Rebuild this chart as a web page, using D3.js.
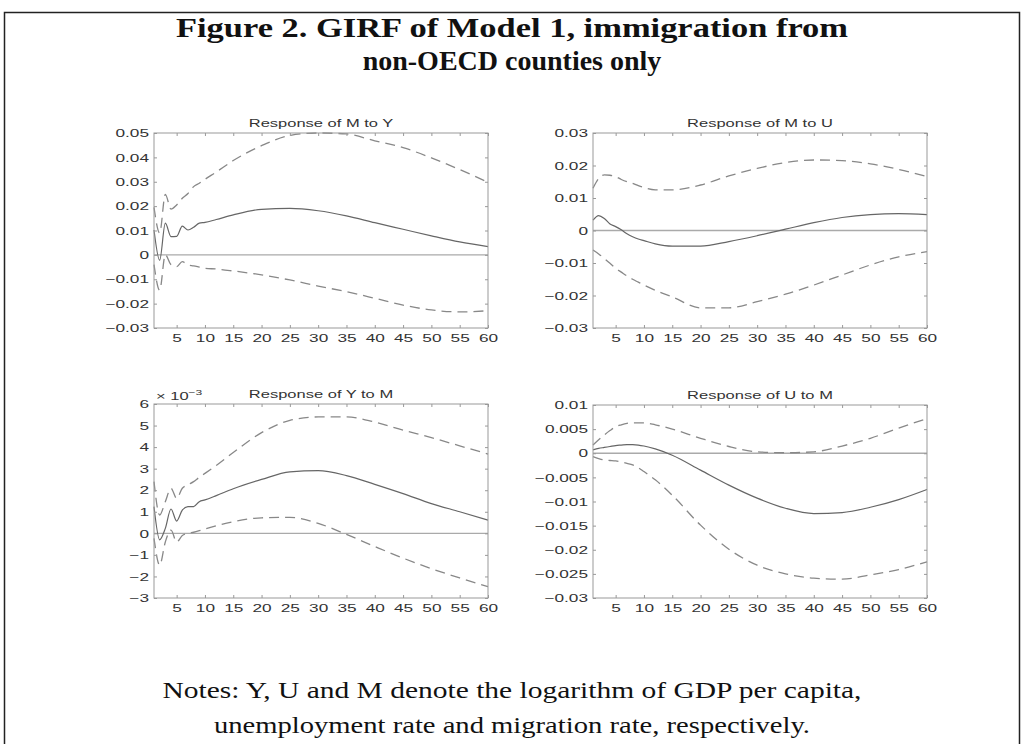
<!DOCTYPE html>
<html>
<head>
<meta charset="utf-8">
<script src="https://cdn.jsdelivr.net/npm/d3@7"></script>
<style>
  body { margin: 0; background: #fff; }
  svg { display: block; }
</style>
</head>
<body>
<svg id="fig" width="1024" height="744"></svg>
<script>
const periods = [1, 2, 3, 4, 5, 6, 7, 8, 9, 10, 12, 15, 20, 25, 30, 35, 40, 45, 50, 55, 60]
const xTicks = [5, 10, 15, 20, 25, 30, 35, 40, 45, 50, 55, 60]

// Response of M to Y
const myMedian = [0.0102, -0.0022, 0.013, 0.0075, 0.0076, 0.0118, 0.0102, 0.0113, 0.013, 0.0133, 0.0145, 0.0164, 0.0187, 0.0191, 0.0181, 0.016, 0.0132, 0.0105, 0.0078, 0.0053, 0.0034]
const myUpper = [0.0195, 0.009, 0.0248, 0.0188, 0.0205, 0.0232, 0.0252, 0.028, 0.0294, 0.031, 0.034, 0.0387, 0.0448, 0.049, 0.05, 0.0496, 0.0468, 0.044, 0.0398, 0.035, 0.0298]
const myLower = [-0.004, -0.0145, 0.0, -0.004, -0.0048, -0.0028, -0.0041, -0.0045, -0.005, -0.0055, -0.0058, -0.0066, -0.0082, -0.0103, -0.0128, -0.0151, -0.0178, -0.0206, -0.0226, -0.0234, -0.0229]
const myTicks = [-0.03, -0.02, -0.01, 0, 0.01, 0.02, 0.03, 0.04, 0.05]

// Response of M to U
const muMedian = [0.0032, 0.0046, 0.0037, 0.002, 0.0012, 0.0002, -0.001, -0.0019, -0.0026, -0.0031, -0.0041, -0.0048, -0.0048, -0.0034, -0.0016, 0.0004, 0.0024, 0.004, 0.0049, 0.0052, 0.0049]
const muUpper = [0.013, 0.016, 0.0171, 0.017, 0.0166, 0.0157, 0.015, 0.0145, 0.0138, 0.0132, 0.0125, 0.0125, 0.014, 0.0168, 0.0191, 0.0209, 0.0217, 0.0215, 0.0205, 0.0188, 0.0166]
const muLower = [-0.006, -0.0072, -0.0086, -0.0101, -0.0116, -0.0128, -0.014, -0.015, -0.0159, -0.0168, -0.0184, -0.0204, -0.0238, -0.0238, -0.0219, -0.0196, -0.0168, -0.0137, -0.0106, -0.0081, -0.0065]
const muTicks = [-0.03, -0.02, -0.01, 0, 0.01, 0.02, 0.03]

// Response of Y to M (in units of 10^-3)
const ymMedian = [1.24, -0.3, 0.23, 1.13, 0.57, 1.08, 1.24, 1.24, 1.47, 1.55, 1.75, 2.07, 2.5, 2.85, 2.91, 2.68, 2.27, 1.84, 1.38, 1.0, 0.61]
const ymUpper = [2.4, 0.85, 1.47, 2.09, 1.62, 2.09, 2.25, 2.4, 2.6, 2.78, 3.15, 3.75, 4.67, 5.24, 5.4, 5.4, 5.16, 4.79, 4.44, 4.06, 3.68]
const ymLower = [-0.23, -1.47, -0.4, 0.15, -0.4, -0.1, 0.0, 0.05, 0.12, 0.2, 0.35, 0.54, 0.72, 0.74, 0.46, -0.05, -0.61, -1.15, -1.64, -2.07, -2.47]
const ymTicks = [-3, -2, -1, 0, 1, 2, 3, 4, 5, 6]

// Response of U to M
const umMedian = [0.0007, 0.001, 0.0012, 0.0014, 0.0016, 0.0017, 0.0018, 0.0018, 0.0017, 0.0015, 0.0009, -0.0004, -0.0035, -0.0066, -0.0093, -0.0114, -0.0125, -0.0123, -0.0112, -0.0096, -0.0075]
const umUpper = [0.0017, 0.0028, 0.0038, 0.0047, 0.0055, 0.0059, 0.0062, 0.0063, 0.0063, 0.0063, 0.0059, 0.005, 0.0031, 0.0014, 0.0003, 0.0001, 0.0003, 0.0015, 0.0031, 0.0052, 0.0072]
const umLower = [-0.0007, -0.0011, -0.0014, -0.0015, -0.0016, -0.0018, -0.0021, -0.0024, -0.003, -0.0038, -0.0055, -0.0087, -0.0149, -0.0199, -0.0232, -0.025, -0.0259, -0.0261, -0.0252, -0.0241, -0.0225]
const umTicks = [-0.03, -0.025, -0.02, -0.015, -0.01, -0.005, 0, 0.005, 0.01]

const svg = d3.select("#fig")
const sans = "Liberation Sans, Arial, Helvetica, sans-serif"
const serif = "Liberation Serif, Times New Roman, serif"
const stretch = 1.5   // the original tick text is wide

// frame
svg.append("path")
    .attr("d", "M4.5,744 V12.5 H1019.5 V744")
    .attr("fill", "none")
    .attr("stroke", "#222")
    .attr("stroke-width", 1.5)

// title
const title = ["Figure 2.  GIRF of Model 1, immigration from", "non-OECD counties only"]
const titleW = [672, null]
title.forEach((t, i) => {
    const tt = svg.append("text")
        .attr("x", 512).attr("y", 37 + i * 33)
        .attr("text-anchor", "middle")
        .attr("font-family", serif).attr("font-weight", "bold")
        .attr("font-size", 28)
        .attr("fill", "#111")
        .text(t)
    if (titleW[i]) tt.attr("textLength", titleW[i]).attr("lengthAdjust", "spacingAndGlyphs")
})

// notes
const notes = ["Notes: Y, U and M denote the logarithm of GDP per capita,", "unemployment rate and migration rate, respectively."]
const notesW = [699, 596]
notes.forEach((t, i) => {
    svg.append("text")
        .attr("x", 512).attr("y", 698 + i * 35)
        .attr("text-anchor", "middle")
        .attr("font-family", serif)
        .attr("font-size", 23)
        .attr("textLength", notesW[i]).attr("lengthAdjust", "spacingAndGlyphs")
        .attr("fill", "#111")
        .text(t)
})

const panels = [
    { title: "Response of M to Y", left: 154, top: 133, w: 334, h: 195, dom: [-0.03, 0.05], ticks: myTicks, med: myMedian, up: myUpper, lo: myLower },
    { title: "Response of M to U", left: 593, top: 133, w: 334, h: 195, dom: [-0.03, 0.03], ticks: muTicks, med: muMedian, up: muUpper, lo: muLower },
    { title: "Response of Y to M", left: 154, top: 404, w: 334, h: 194, dom: [-3, 6], ticks: ymTicks, med: ymMedian, up: ymUpper, lo: ymLower, exp: true },
    { title: "Response of U to M", left: 593, top: 405, w: 334, h: 193, dom: [-0.03, 0.01], ticks: umTicks, med: umMedian, up: umUpper, lo: umLower }
]

function fmt(d) {
    if (d === 0) return "0"
    return (d < 0 ? "\u2212" : "") + String(+Math.abs(d).toFixed(4))
}

panels.forEach(p => {
    const g = svg.append("g").attr("transform", `translate(${p.left},${p.top})`)
    const x = d3.scaleLinear().domain([1, 60]).range([0, p.w])
    const y = d3.scaleLinear().domain(p.dom).range([p.h, 0])

    // zero line
    g.append("line")
        .attr("x1", 0).attr("x2", p.w)
        .attr("y1", y(0)).attr("y2", y(0))
        .attr("stroke", "#aaa").attr("stroke-width", 1.4)

    const line = d3.line()
        .x((d, i) => x(periods[i]))
        .y(d => y(d))
        .curve(d3.curveMonotoneX)

    ;[p.up, p.lo].forEach(s => {
        g.append("path").attr("d", line(s))
            .attr("fill", "none").attr("stroke", "#888")
            .attr("stroke-width", 1.3).attr("stroke-dasharray", "10,6")
    })
    g.append("path").attr("d", line(p.med))
        .attr("fill", "none").attr("stroke", "#666").attr("stroke-width", 1.2)

    // axes, MATLAB-like: inward ticks on all sides
    g.append("g").attr("transform", `translate(0,${p.h})`)
        .call(d3.axisBottom(x).tickValues(xTicks).tickSizeInner(-3).tickSizeOuter(0).tickPadding(6))
    g.append("g")
        .call(d3.axisTop(x).tickValues(xTicks).tickSizeInner(-3).tickSizeOuter(0).tickFormat(""))
    const left = g.append("g")
        .call(d3.axisLeft(y).tickValues(p.ticks).tickSizeInner(-3).tickSizeOuter(0).tickPadding(5).tickFormat(fmt))
    g.append("g").attr("transform", `translate(${p.w},0)`)
        .call(d3.axisRight(y).tickValues(p.ticks).tickSizeInner(-3).tickSizeOuter(0).tickFormat(""))

    g.selectAll(".domain").remove()
    g.selectAll(".tick line").attr("stroke", "#999")
    g.selectAll(".tick text")
        .attr("font-family", sans).attr("font-size", 11.5).attr("fill", "#333")
        .attr("transform", `scale(${stretch},1)`)
    left.selectAll(".tick text").attr("x", -5 / stretch)

    g.append("rect")
        .attr("width", p.w).attr("height", p.h)
        .attr("fill", "none").attr("stroke", "#999").attr("stroke-width", 1)

    g.append("text")
        .attr("transform", `translate(${p.w / 2},-6) scale(${stretch},1)`)
        .attr("text-anchor", "middle")
        .attr("font-family", sans).attr("font-size", 11).attr("fill", "#333")
        .text(p.title)

    if (p.exp) {
        const e = g.append("text")
            .attr("transform", `translate(2,-4) scale(${stretch},1)`)
            .attr("font-family", sans).attr("font-size", 11).attr("fill", "#333")
        e.append("tspan").text("\u00d7 10")
        e.append("tspan").attr("dy", -5).attr("font-size", 8).text("\u22123")
    }
})
</script>
</body>
</html>
